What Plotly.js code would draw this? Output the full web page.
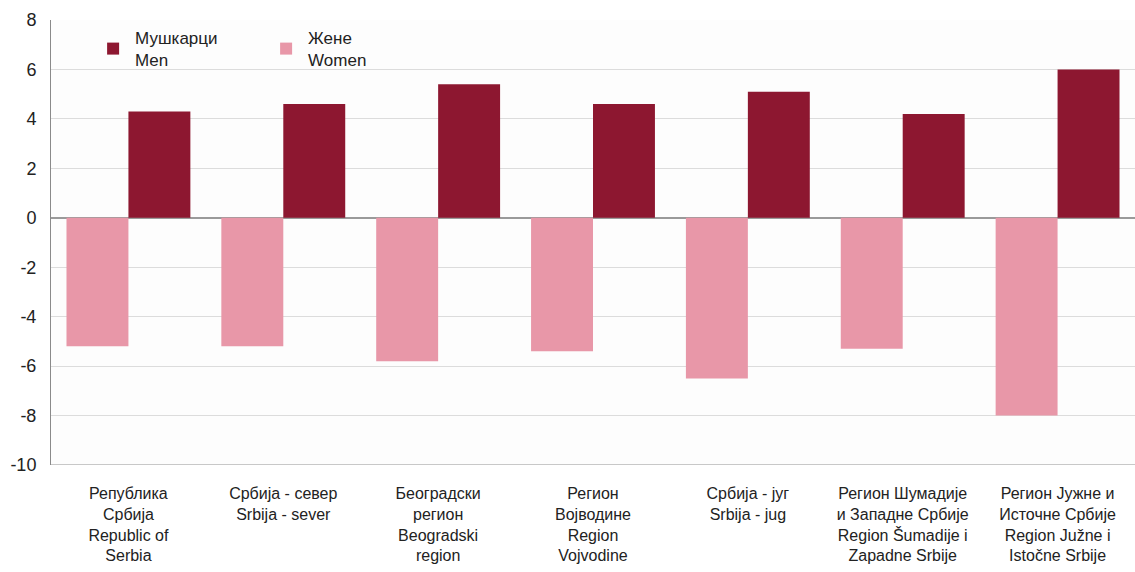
<!DOCTYPE html>
<html>
<head>
<meta charset="utf-8">
<script src="https://cdn.plot.ly/plotly-3.0.1.min.js"></script>
<style>html,body{margin:0;padding:0;background:#fff;}#chart{width:1135px;height:572px;}</style>
</head>
<body>
<div id="chart"></div>
<script>
const categories = [
  "Република<br>Србија<br>Republic of<br>Serbia",
  "Србија - север<br>Srbija - sever",
  "Београдски<br>регион<br>Beogradski<br>region",
  "Регион<br>Војводине<br>Region<br>Vojvodine",
  "Србија - југ<br>Srbija - jug",
  "Регион Шумадије<br>и Западне Србије<br>Region Šumadije i<br>Zapadne Srbije",
  "Регион Јужне и<br>Источне Србије<br>Region Južne i<br>Istočne Srbije"
];
const menValues = [4.3, 4.6, 5.4, 4.6, 5.1, 4.2, 6.0];
const womenValues = [-5.2, -5.2, -5.8, -5.4, -6.5, -5.3, -8.0];
const yTicks = [-10, -8, -6, -4, -2, 0, 2, 4, 6, 8];

const font = "Liberation Sans, Arial, sans-serif";

const traces = [
  {type: "bar", name: "Жене<br>Women", x: categories, y: womenValues,
   marker: {color: "#E897A8"}, legendrank: 2, hoverinfo: "y"},
  {type: "bar", name: "Мушкарци<br>Men", x: categories, y: menValues,
   marker: {color: "#8D1730"}, legendrank: 1, hoverinfo: "y"}
];

const layout = {
  width: 1135, height: 572,
  margin: {l: 51, r: 0, t: 20, b: 107},
  paper_bgcolor: "#ffffff", plot_bgcolor: "#fdfdfd",
  barmode: "group", bargap: 0.2, bargroupgap: 0,
  font: {family: font, color: "#222"},
  showlegend: true,
  legend: {orientation: "h", x: 0.037, y: 1.0, xanchor: "left", yanchor: "top",
           bgcolor: "rgba(0,0,0,0)", font: {size: 17, family: font, color: "#222"},
           itemwidth: 34, entrywidth: 124, valign: "middle"},
  xaxis: {type: "category", showgrid: false, showline: false, ticks: "",
          ticklabelstandoff: 17,
          tickfont: {size: 16, family: font, color: "#222"}, tickangle: 0, automargin: false},
  yaxis: {range: [-10, 8], tickvals: yTicks, ticktext: yTicks.map(String),
          showgrid: true, gridcolor: "#dcdcdc", gridwidth: 1,
          zeroline: true, zerolinecolor: "#9a9a9a", zerolinewidth: 2,
          showline: true, linecolor: "#8a8a8a", linewidth: 1, mirror: false,
          ticks: "", ticklabelstandoff: 10,
          tickfont: {size: 18, family: font, color: "#222"}, automargin: false},
  shapes: [{type: "line", xref: "paper", yref: "y", x0: 0, x1: 1, y0: -10, y1: -10,
            line: {color: "#c8c8c8", width: 2}}]
};

Plotly.newPlot("chart", traces, layout, {displayModeBar: false, staticPlot: true});
</script>
</body>
</html>
